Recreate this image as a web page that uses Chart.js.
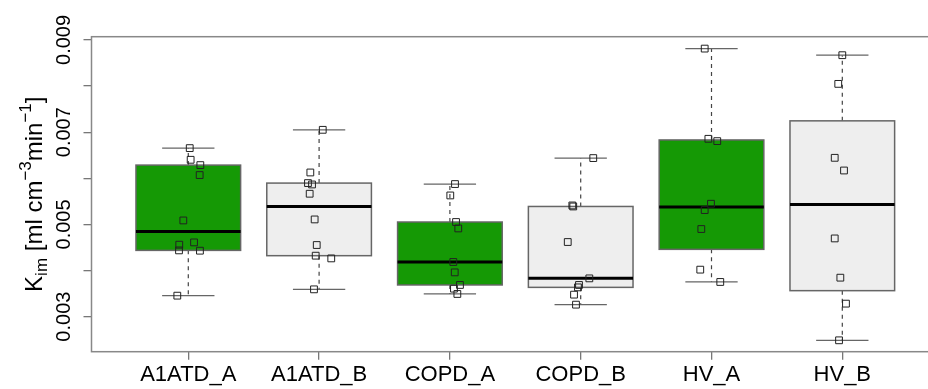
<!DOCTYPE html>
<html>
<head>
<meta charset="utf-8">
<script src="https://cdn.jsdelivr.net/npm/chart.js@4/dist/chart.umd.min.js"></script>
<style>
  html, body { margin: 0; padding: 0; overflow: hidden; background: #fff; }
  #wrap { width: 960px; height: 389px; }
</style>
</head>
<body>
<div id="wrap"><canvas id="kimChart" width="960" height="389"></canvas></div>
<script>
// groups on the x axis
const groups = ['A1ATD_A', 'A1ATD_B', 'COPD_A', 'COPD_B', 'HV_A', 'HV_B'];

// Kim per subject, one array per group
const kimA1atdA = [0.006654, 0.006401, 0.006286, 0.006070, 0.005086, 0.004610, 0.004560, 0.004437, 0.004430, 0.003455];
const kimA1atdB = [0.007051, 0.006126, 0.005896, 0.005866, 0.005665, 0.005108, 0.004553, 0.004322, 0.004263, 0.003592];
const kimCopdA  = [0.005875, 0.005628, 0.005052, 0.004913, 0.004185, 0.003960, 0.003687, 0.003607, 0.003492];
const kimCopdB  = [0.006438, 0.005411, 0.005389, 0.004618, 0.003830, 0.003687, 0.003635, 0.003477, 0.003260];
const kimHvA    = [0.008812, 0.006856, 0.006806, 0.005448, 0.005311, 0.004900, 0.004019, 0.003752];
const kimHvB    = [0.008669, 0.008047, 0.006444, 0.006169, 0.004696, 0.003845, 0.003282, 0.002487];

// horizontal jitter of each point (in group units)
const jitA1atdA = [0.011, 0.018, 0.092, 0.087, -0.038, 0.044, -0.069, -0.071, 0.089, -0.084];
const jitA1atdB = [0.028, -0.067, -0.085, -0.054, -0.072, -0.034, -0.018, -0.026, 0.093, -0.039];
const jitCopdA  = [0.039, 0.003, 0.047, 0.064, 0.026, 0.037, 0.077, 0.031, 0.057];
const jitCopdB  = [0.096, -0.064, -0.057, -0.099, 0.066, -0.013, -0.021, -0.051, -0.036];
const jitHvA    = [-0.052, -0.024, 0.044, -0.004, -0.052, -0.078, -0.086, 0.067];
const jitHvB    = [0, -0.031, -0.058, 0.013, -0.058, -0.015, 0.028, -0.025];

// y axis ticks and the labels printed
const yTicks = [0.003, 0.004, 0.005, 0.006, 0.007, 0.008, 0.009];
const yTickLabels = ['0.003', '0.005', '0.007', '0.009'];

const kimValues = [kimA1atdA, kimA1atdB, kimCopdA, kimCopdB, kimHvA, kimHvB];
const kimJitter = [jitA1atdA, jitA1atdB, jitCopdA, jitCopdB, jitHvA, jitHvB];
const boxFills = ['#159905', '#eeeeee', '#159905', '#eeeeee', '#159905', '#eeeeee'];

// Tukey five-number summary (same as R's fivenum)
function fivenum(arr) {
    const x = [...arr].sort((a, b) => a - b);
    const n = x.length;
    const n4 = Math.floor((n + 3) / 2) / 2;
    const d = [1, n4, (n + 1) / 2, n + 1 - n4, n];
    return d.map(k => 0.5 * (x[Math.floor(k) - 1] + x[Math.ceil(k) - 1]));
}

const boxStats = kimValues.map(vals => {
    const f = fivenum(vals);
    const iqr = f[3] - f[1];
    const lo = Math.min(...vals.filter(v => v >= f[1] - 1.5 * iqr));
    const hi = Math.max(...vals.filter(v => v <= f[3] + 1.5 * iqr));
    return { lo: lo, q1: f[1], med: f[2], q3: f[3], hi: hi };
});

const points = [];
kimValues.forEach((vals, i) => {
    vals.forEach((v, j) => points.push({ x: i + 1 + kimJitter[i][j], y: v }));
});

const boxPlugin = {
    id: 'boxes',
    beforeDatasetsDraw(chart) {
        const ctx = chart.ctx;
        const xs = chart.scales.x, ys = chart.scales.y;
        ctx.save();
        boxStats.forEach((s, i) => {
            const c = i + 1;
            const xl = xs.getPixelForValue(c - 0.4), xr = xs.getPixelForValue(c + 0.4);
            const xm = xs.getPixelForValue(c);
            const cl = xs.getPixelForValue(c - 0.2), cr = xs.getPixelForValue(c + 0.2);
            const yLo = ys.getPixelForValue(s.lo), yQ1 = ys.getPixelForValue(s.q1);
            const yMed = ys.getPixelForValue(s.med), yQ3 = ys.getPixelForValue(s.q3);
            const yHi = ys.getPixelForValue(s.hi);

            // dashed whiskers
            ctx.strokeStyle = '#444';
            ctx.lineWidth = 1.2;
            ctx.setLineDash([4, 4]);
            ctx.beginPath();
            ctx.moveTo(xm, yQ3); ctx.lineTo(xm, yHi);
            ctx.moveTo(xm, yQ1); ctx.lineTo(xm, yLo);
            ctx.stroke();
            ctx.setLineDash([]);

            // staples
            ctx.strokeStyle = '#666';
            ctx.lineWidth = 1.3;
            ctx.beginPath();
            ctx.moveTo(cl, yHi); ctx.lineTo(cr, yHi);
            ctx.moveTo(cl, yLo); ctx.lineTo(cr, yLo);
            ctx.stroke();

            // box
            ctx.fillStyle = boxFills[i];
            ctx.fillRect(xl, yQ3, xr - xl, yQ1 - yQ3);
            ctx.strokeStyle = '#666';
            ctx.lineWidth = 1.5;
            ctx.strokeRect(xl, yQ3, xr - xl, yQ1 - yQ3);

            // median
            ctx.strokeStyle = '#000';
            ctx.lineWidth = 3;
            ctx.beginPath();
            ctx.moveTo(xl, yMed); ctx.lineTo(xr, yMed);
            ctx.stroke();
        });
        ctx.restore();
    },
    afterDraw(chart) {
        const ctx = chart.ctx;
        const a = chart.chartArea;
        const ys = chart.scales.y;
        ctx.save();
        // frame
        ctx.strokeStyle = '#888';
        ctx.lineWidth = 1.5;
        ctx.strokeRect(a.left, a.top, a.right - a.left, a.bottom - a.top);

        // rotated y tick labels
        ctx.fillStyle = '#000';
        ctx.font = '20px "Liberation Sans", Arial, sans-serif';
        ctx.textAlign = 'center';
        ctx.textBaseline = 'alphabetic';
        yTickLabels.forEach(lab => {
            const y = ys.getPixelForValue(parseFloat(lab));
            ctx.save();
            ctx.translate(70, y);
            ctx.rotate(-Math.PI / 2);
            ctx.fillText(lab, 0, 0);
            ctx.restore();
        });

        // y axis title with sub/superscripts
        const big = '24px "Liberation Sans", Arial, sans-serif';
        const small = '17px "Liberation Sans", Arial, sans-serif';
        const parts = [
            { t: 'K', f: big, dy: 0 },
            { t: 'im', f: small, dy: 5 },
            { t: ' [ml cm', f: big, dy: 0 },
            { t: '\u22123', f: small, dy: -11 },
            { t: 'min', f: big, dy: 0 },
            { t: '\u22121', f: small, dy: -11 },
            { t: ']', f: big, dy: 0 }
        ];
        let total = 0;
        parts.forEach(p => { ctx.font = p.f; p.w = ctx.measureText(p.t).width; total += p.w; });
        ctx.save();
        ctx.translate(42, (a.top + a.bottom) / 2);
        ctx.rotate(-Math.PI / 2);
        ctx.textAlign = 'left';
        let x = -total / 2;
        parts.forEach(p => {
            ctx.font = p.f;
            ctx.fillText(p.t, x, p.dy);
            x += p.w;
        });
        ctx.restore();
        ctx.restore();
    }
};

const ctx = document.getElementById('kimChart').getContext('2d');
const kimChart = new Chart(ctx, {
    type: 'scatter',
    data: {
        datasets: [{
            label: 'Kim',
            data: points,
            pointStyle: 'rect',
            radius: 4.8,
            borderColor: '#222',
            borderWidth: 1,
            backgroundColor: 'rgba(0,0,0,0)',
            clip: false
        }]
    },
    options: {
        responsive: false,
        animation: false,
        events: [],
        layout: { padding: { top: 36.7, right: 20.9, bottom: 0, left: 0 } },
        plugins: { legend: { display: false }, tooltip: { enabled: false } },
        scales: {
            x: {
                type: 'linear',
                min: 0.26,
                max: 6.74,
                afterBuildTicks: s => { s.ticks = groups.map((g, i) => ({ value: i + 1 })); },
                afterFit: s => { s.height = 37.3; },
                ticks: {
                    callback: v => groups[Math.round(v) - 1],
                    color: '#000',
                    font: { family: '"Liberation Sans", Arial, sans-serif', size: 22 },
                    padding: 2,
                    maxRotation: 0,
                    autoSkip: false
                },
                grid: { drawOnChartArea: false, drawTicks: true, tickLength: 8, color: '#777', lineWidth: 1.3 },
                border: { display: false }
            },
            y: {
                min: 0.00224,
                max: 0.00907,
                afterBuildTicks: s => { s.ticks = yTicks.map(v => ({ value: v })); },
                afterFit: s => { s.width = 91.5; },
                ticks: { display: false },
                grid: { drawOnChartArea: false, drawTicks: true, tickLength: 8, color: '#777', lineWidth: 1.3 },
                border: { display: false }
            }
        }
    },
    plugins: [boxPlugin]
});
</script>
</body>
</html>
